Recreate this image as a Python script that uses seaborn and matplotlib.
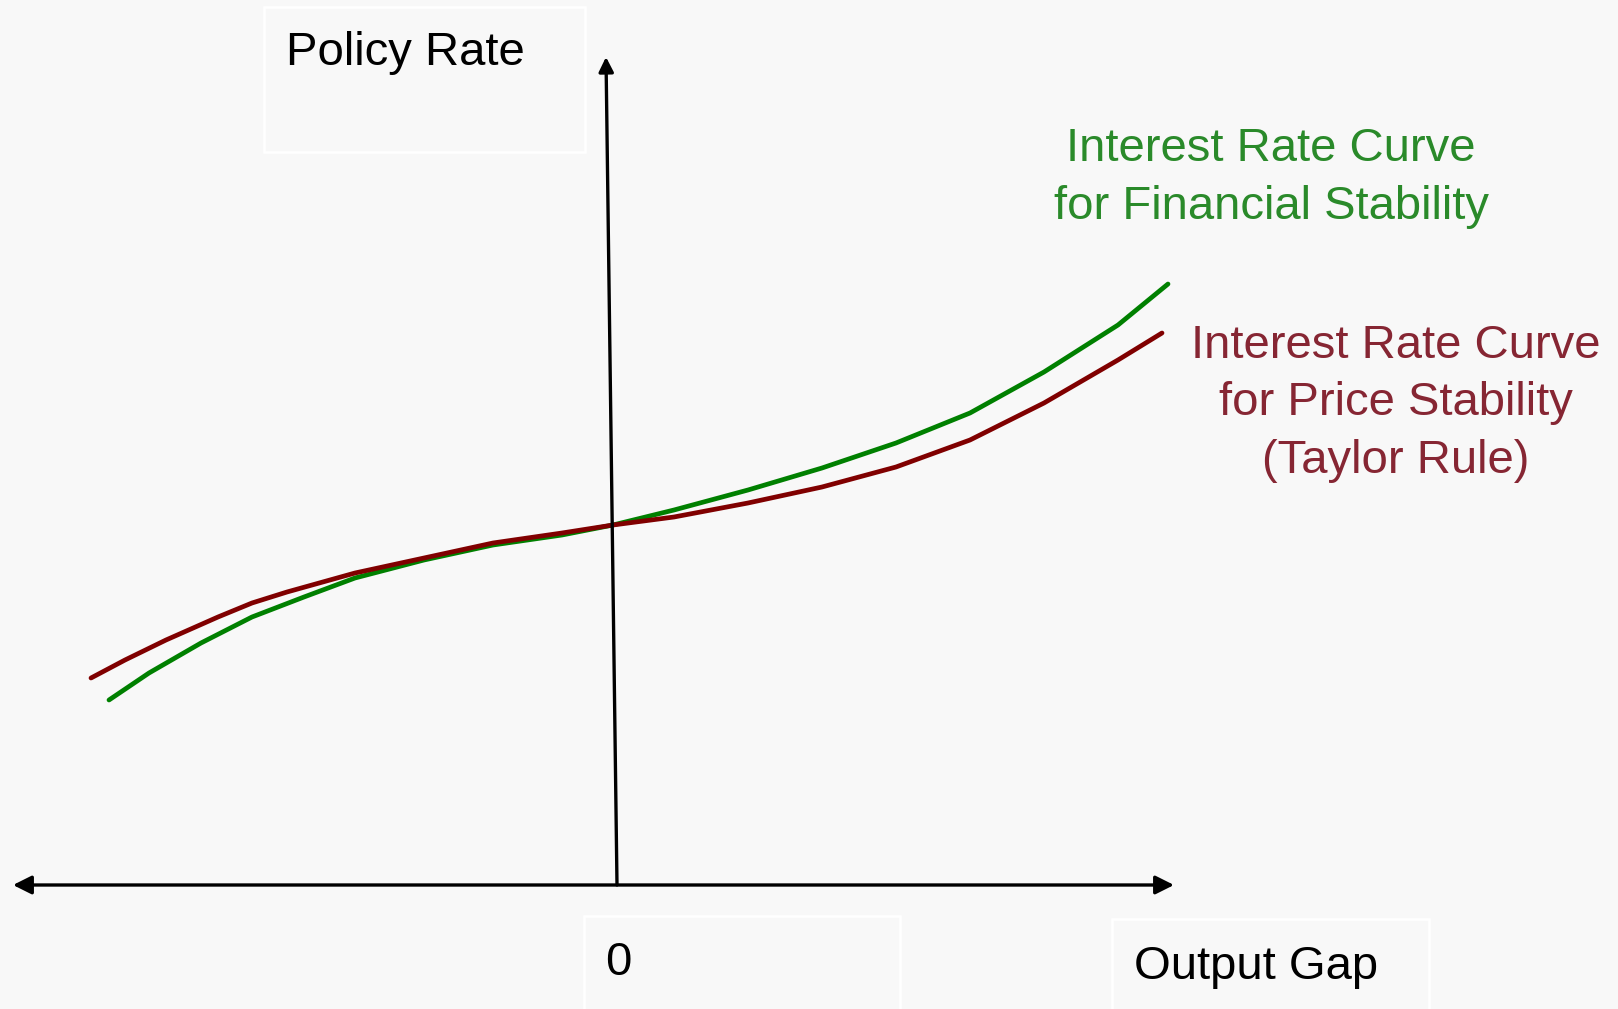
import numpy as np
import pandas as pd
import matplotlib
matplotlib.use('Agg')
import matplotlib.pyplot as plt
import seaborn as sns
from matplotlib.patches import Rectangle

# Dados (hiato do produto x taxa de juros, unidades arbitrarias)
hiato_financeira = [-5.04, -4.64, -4.12, -3.61, -3.09, -2.58, -1.89, -1.20, -0.51, 0.00,
                    0.61, 1.35, 2.09, 2.83, 3.57, 4.31, 5.05, 5.55]
taxa_financeira = [1.85, 2.12, 2.42, 2.68, 2.88, 3.07, 3.25, 3.40, 3.50, 3.60,
                   3.75, 3.95, 4.17, 4.42, 4.72, 5.13, 5.60, 6.01]

hiato_precos = [-5.22, -4.88, -4.47, -3.95, -3.61, -3.26, -2.58, -1.89, -1.20, -0.51, 0.00,
                0.61, 1.35, 2.09, 2.83, 3.57, 4.31, 5.05, 5.49]
taxa_precos = [2.07, 2.25, 2.45, 2.68, 2.82, 2.93, 3.12, 3.27, 3.42, 3.52, 3.60,
               3.68, 3.82, 3.98, 4.18, 4.45, 4.82, 5.25, 5.52]

rotulo_financeira = 'Interest Rate Curve\nfor Financial Stability'
rotulo_precos = 'Interest Rate Curve\nfor Price Stability\n(Taylor Rule)'
rotulo_y = 'Policy Rate'
rotulo_x = 'Output Gap'
rotulo_zero = '0'

# Configuracoes
FUNDO = '#f8f8f8'
sns.set_theme(style='white', rc={'figure.facecolor': FUNDO, 'axes.facecolor': FUNDO})
plt.rcParams['font.family'] = ['Liberation Sans', 'DejaVu Sans']

W, H = 1618, 1009
fig = plt.figure(figsize=(W / 100, H / 100), dpi=100)
ax = fig.add_axes([0, 0, 1, 1])
ax.set_xlim(-6.13, 10.05)
ax.set_ylim(-1.24, 8.85)
ax.axis('off')


def px(x, y):
    # pixel (topo-esquerda) -> fracao da figura
    return x / W, 1 - y / H


df_fin = pd.DataFrame({'hiato': hiato_financeira, 'taxa': taxa_financeira})
df_pre = pd.DataFrame({'hiato': hiato_precos, 'taxa': taxa_precos})

sns.lineplot(data=df_fin, x='hiato', y='taxa', ax=ax, color='#008000', lw=3.4,
             sort=False, estimator=None, solid_joinstyle='round')
sns.lineplot(data=df_pre, x='hiato', y='taxa', ax=ax, color='#800000', lw=3.4,
             sort=False, estimator=None, solid_joinstyle='round')

# Eixos desenhados com setas
ax.annotate('', xy=(5.61, 0), xytext=(-6.0, 0),
            arrowprops=dict(arrowstyle='<|-|>', lw=2.4, color='black',
                            mutation_scale=28, shrinkA=0, shrinkB=0))
ax.annotate('', xy=(-0.07, 8.28), xytext=(0.04, 0),
            arrowprops=dict(arrowstyle='-|>', lw=2.4, color='black',
                            mutation_scale=22, shrinkA=0, shrinkB=0))

# Caixas dos rotulos
for (x0, y0, x1, y1) in [(264, 7, 585, 152), (584, 916, 900, 1012), (1112, 919, 1429, 1012)]:
    fx0, fy1 = px(x0, y1)
    fx1, fy0 = px(x1, y0)
    fig.patches.append(Rectangle((fx0, fy1), fx1 - fx0, fy0 - fy1, transform=fig.transFigure,
                                 facecolor='none', edgecolor='white', lw=1.8, zorder=0))

fs = 34
fig.text(*px(286, 65), rotulo_y, fontsize=fs, color='black', va='baseline', ha='left')
fig.text(*px(605, 975), rotulo_zero, fontsize=fs, color='black', va='baseline', ha='left')
fig.text(*px(1134, 979), rotulo_x, fontsize=fs, color='black', va='baseline', ha='left')
fig.text(*px(1271, 219), rotulo_financeira, fontsize=fs, color='#2a8a2a', va='baseline',
         ha='center', multialignment='center', linespacing=1.4)
fig.text(*px(1396, 473), rotulo_precos, fontsize=fs, color='#862633', va='baseline',
         ha='center', multialignment='center', linespacing=1.4)

fig.savefig('out.png', dpi=100, facecolor=FUNDO)
